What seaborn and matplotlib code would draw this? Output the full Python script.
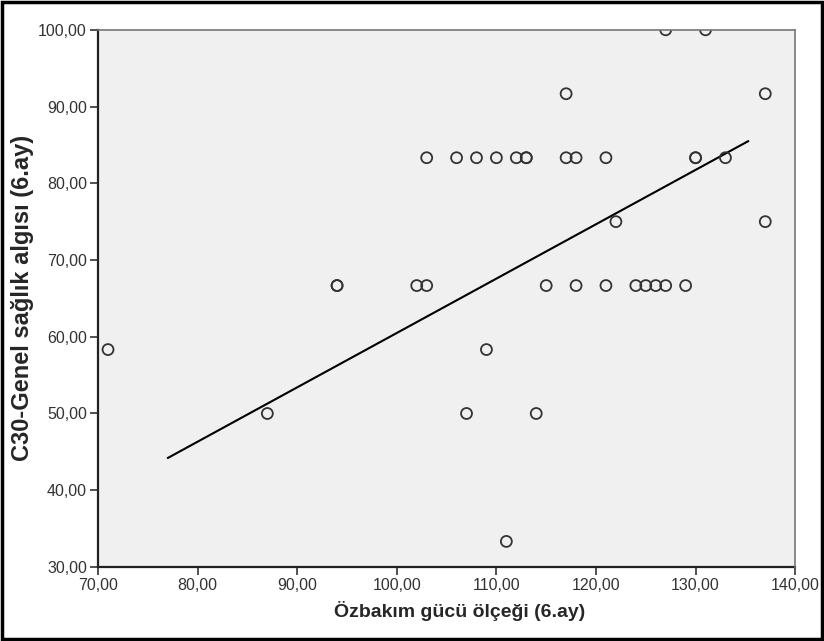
import matplotlib
matplotlib.use("Agg")
import matplotlib.pyplot as plt
import seaborn as sns
import pandas as pd
from matplotlib.ticker import FuncFormatter, MultipleLocator
from matplotlib.patches import Rectangle

# Data
ozbakim = [71, 87, 94, 94, 102, 103, 103, 106, 108, 110, 112, 113, 113,
           107, 109, 111, 114, 115, 117, 117, 118, 118, 121, 121, 122,
           124, 125, 126, 127, 129, 127, 131, 130, 130, 133, 137, 137]
saglik = [58.33, 50.00, 66.67, 66.67, 66.67, 66.67, 83.33, 83.33, 83.33, 83.33, 83.33, 83.33, 83.33,
          50.00, 58.33, 33.33, 50.00, 66.67, 91.67, 83.33, 83.33, 66.67, 83.33, 66.67, 75.00,
          66.67, 66.67, 66.67, 66.67, 66.67, 100.00, 100.00, 83.33, 83.33, 83.33, 91.67, 75.00]

fit_x = [77.0, 135.3]
fit_y = [44.2, 85.5]

x_label = "Özbakım gücü ölçeği (6.ay)"
y_label = "C30-Genel sağlık algısı (6.ay)"

df = pd.DataFrame({"x": ozbakim, "y": saglik})
fit = pd.DataFrame({"x": fit_x, "y": fit_y})

sns.set_style("ticks")
plt.rcParams["font.family"] = ["Liberation Sans", "DejaVu Sans"]

fig = plt.figure(figsize=(8.24, 6.41), dpi=100)
ax = fig.add_axes([0.119, 0.1155, 0.846, 0.838])
ax.set_facecolor("#f0f0f0")

sns.scatterplot(data=df, x="x", y="y", ax=ax, marker="o", s=62,
                facecolors="none", edgecolor="#333333", linewidth=1.3, zorder=3)
sns.lineplot(data=fit, x="x", y="y", ax=ax, color="black", linewidth=1.5, zorder=2)
for coll in ax.collections:
    coll.set_clip_on(True)
    coll.set_clip_path(ax.patch)

ax.set_xlim(70, 140)
ax.set_ylim(30, 100)
ax.xaxis.set_major_locator(MultipleLocator(10))
ax.yaxis.set_major_locator(MultipleLocator(10))
fmt = FuncFormatter(lambda v, p: f"{v:.2f}".replace(".", ","))
ax.xaxis.set_major_formatter(fmt)
ax.yaxis.set_major_formatter(fmt)
ax.tick_params(axis="both", direction="out", length=6, width=1.2, color="#333333",
               labelsize=11.5, labelcolor="#333333", pad=2)

for side in ["left", "bottom"]:
    ax.spines[side].set_color("#222222")
    ax.spines[side].set_linewidth(1.6)
for side in ["top", "right"]:
    ax.spines[side].set_visible(True)
    ax.spines[side].set_color("#777777")
    ax.spines[side].set_linewidth(1.2)
    ax.spines[side].set_zorder(5)

ax.set_xlabel(x_label, fontsize=14, fontweight="bold")
ax.xaxis.set_label_coords(0.518, -0.064, transform=ax.transAxes)
ax.xaxis.label.set_va("top")
ax.set_ylabel(y_label, fontsize=17, fontweight="bold", labelpad=3)

fig.patches.append(Rectangle((0.002, 0.003), 0.996, 0.994, transform=fig.transFigure,
                             fill=False, edgecolor="black", linewidth=2.5))

fig.savefig("out.png", dpi=100)
